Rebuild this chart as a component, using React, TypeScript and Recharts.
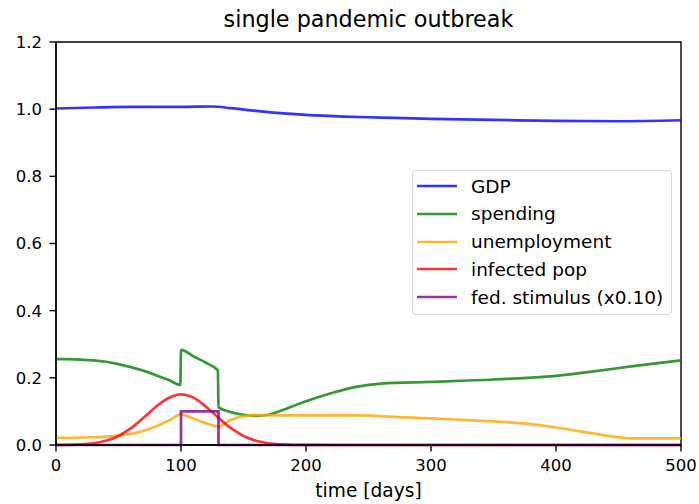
import React from "react";
import { LineChart, Line, XAxis, YAxis, ReferenceArea } from "recharts";

// ---- data ----
const xTicks = [0, 100, 200, 300, 400, 500];
const yTicks = [0, 0.2, 0.4, 0.6, 0.8, 1.0, 1.2];

const gdpDays = [0, 30, 60, 100, 125, 140, 160, 180, 200, 230, 260, 300, 350, 400, 450, 500];
const gdpValues = [1.002, 1.005, 1.007, 1.007, 1.008, 1.003, 0.995, 0.988, 0.983, 0.978, 0.975, 0.971, 0.968, 0.965, 0.964, 0.967];

const spendingDays = [0, 10, 20, 30, 40, 50, 60, 70, 80, 90, 99.5, 100, 110, 120, 129.5, 130, 140, 150, 160, 170, 180, 200, 220, 240, 260, 300, 350, 400, 430, 460, 500];
const spendingValues = [0.256, 0.2555, 0.254, 0.252, 0.248, 0.241, 0.232, 0.221, 0.208, 0.194, 0.179, 0.283, 0.264, 0.245, 0.222, 0.112, 0.098, 0.09, 0.087, 0.09, 0.102, 0.13, 0.154, 0.173, 0.183, 0.188, 0.195, 0.206, 0.219, 0.234, 0.252];

const unempDays = [0, 10, 20, 30, 40, 50, 60, 70, 80, 90, 100, 110, 120, 130, 140, 150, 160, 200, 240, 280, 320, 360, 380, 400, 420, 440, 455, 460, 500];
const unempValues = [0.021, 0.021, 0.022, 0.023, 0.025, 0.028, 0.033, 0.042, 0.055, 0.072, 0.091, 0.078, 0.065, 0.055, 0.075, 0.086, 0.089, 0.088, 0.088, 0.082, 0.076, 0.068, 0.062, 0.052, 0.04, 0.028, 0.021, 0.02, 0.02];

const infectedDays = [0, 10, 20, 30, 40, 50, 60, 70, 80, 90, 100, 110, 120, 130, 140, 150, 160, 170, 180, 190, 200, 250, 300, 400, 500];
const infectedValues = [0.0002, 0.0006, 0.0019, 0.0052, 0.0127, 0.027, 0.05, 0.081, 0.114, 0.14, 0.151, 0.141, 0.114, 0.081, 0.05, 0.027, 0.0127, 0.0052, 0.0019, 0.0006, 0.0002, 0, 0, 0, 0];

const stimulusDays = [0, 100, 100, 130, 130, 500];
const stimulusValues = [0, 0, 0.1, 0.1, 0, 0];

const seriesNames = ["GDP", "spending", "unemployment", "infected pop", "fed. stimulus (x0.10)"];
const seriesColors = ["#0000ff", "#008000", "#ffa500", "#ff0000", "#800080"];

const toPoints = (xs: number[], ys: number[]) => xs.map((x, i) => ({ x, y: ys[i] }));

const series = [
  { name: seriesNames[0], color: seriesColors[0], data: toPoints(gdpDays, gdpValues), curve: "monotone" },
  { name: seriesNames[1], color: seriesColors[1], data: toPoints(spendingDays, spendingValues), curve: "monotone" },
  { name: seriesNames[2], color: seriesColors[2], data: toPoints(unempDays, unempValues), curve: "monotone" },
  { name: seriesNames[3], color: seriesColors[3], data: toPoints(infectedDays, infectedValues), curve: "monotone" },
  { name: seriesNames[4], color: seriesColors[4], data: toPoints(stimulusDays, stimulusValues), curve: "linear" },
];

const FONT = "'DejaVu Sans', sans-serif";

const LegendBox = () => (
  <div
    style={{
      position: "absolute",
      left: 412,
      top: 170,
      width: 260,
      height: 145,
      boxSizing: "border-box",
      border: "1px solid #d6d6d6",
      borderRadius: 4,
      background: "rgba(255,255,255,0.8)",
      fontFamily: FONT,
      fontSize: 18.5,
      color: "#000",
    }}
  >
    {series.map((s, i) => (
      <div
        key={s.name}
        style={{ position: "absolute", left: 0, top: 1 + i * 27.8, height: 28, display: "flex", alignItems: "center" }}
      >
        <svg width={44} height={28} style={{ display: "block" }}>
          <line x1={4} x2={44} y1={14} y2={14} stroke={s.color} strokeOpacity={0.8} strokeWidth={2.7} />
        </svg>
        <span style={{ marginLeft: 14, whiteSpace: "nowrap" }}>{s.name}</span>
      </div>
    ))}
  </div>
);

export default function App() {
  const tickStyle = { fontFamily: FONT, fontSize: 16.5, fill: "#000" };
  return (
    <div style={{ position: "absolute", left: 0, top: 0, width: 699, height: 504, background: "#fff" }}>
      <div
        style={{
          position: "absolute",
          left: 56,
          width: 625,
          top: 6,
          textAlign: "center",
          fontFamily: FONT,
          fontSize: 22.3,
          color: "#000",
          lineHeight: "26px",
          whiteSpace: "nowrap",
        }}
      >
        single pandemic outbreak
      </div>
      <LineChart width={699} height={504} margin={{ top: 42, right: 18, bottom: 0, left: 0 }}>
        <XAxis
          dataKey="x"
          type="number"
          domain={[0, 500]}
          ticks={xTicks}
          height={59}
          tick={tickStyle}
          tickSize={6.5}
          tickMargin={7.5}
          axisLine={{ stroke: "#000", strokeWidth: 1.4 }}
          tickLine={{ stroke: "#000", strokeWidth: 1.4 }}
          label={{ value: "time [days]", position: "insideBottom", offset: 7, style: { fontFamily: FONT, fontSize: 18.6, fill: "#000" } }}
        />
        <YAxis
          type="number"
          domain={[0, 1.2]}
          ticks={yTicks}
          width={56}
          tick={tickStyle}
          tickSize={6.5}
          tickMargin={7.5}
          tickFormatter={(v: number) => v.toFixed(1)}
          axisLine={{ stroke: "#000", strokeWidth: 1.4 }}
          tickLine={{ stroke: "#000", strokeWidth: 1.4 }}
        />
        {series.map((s) => (
          <Line
            key={s.name}
            data={s.data}
            dataKey="y"
            name={s.name}
            type={s.curve as any}
            stroke={s.color}
            strokeOpacity={0.8}
            strokeWidth={2.7}
            dot={false}
            activeDot={false}
            isAnimationActive={false}
          />
        ))}
        <ReferenceArea x1={0} x2={500} y1={0} y2={1.2} fill="none" stroke="#000" strokeWidth={1.4} ifOverflow="visible" />
      </LineChart>
      <LegendBox />
    </div>
  );
}
